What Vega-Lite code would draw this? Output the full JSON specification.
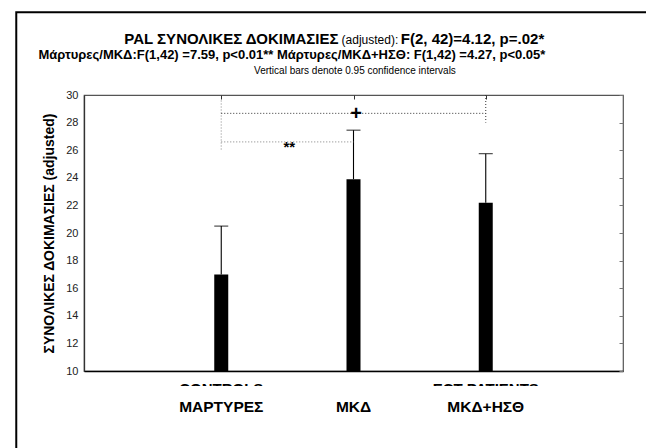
{
  "$schema": "https://vega.github.io/schema/vega-lite/v6.json",
  "width": 539,
  "height": 276,
  "autosize": {"type": "none"},
  "padding": {"left": 84, "top": 95, "right": 23, "bottom": 77},
  "background": "white",
  "config": {
    "font": "Liberation Sans",
    "view": {"stroke": "#555", "strokeWidth": 1.2}
  },
  "data": {
    "values": [
      {"pos": 1, "group": "ΜΑΡΤΥΡΕΣ", "label": "CONTROLS", "mean": 17.0, "upper": 20.5},
      {"pos": 2, "group": "ΜΚΔ", "label": "", "mean": 23.9, "upper": 27.45},
      {"pos": 3, "group": "ΜΚΔ+ΗΣΘ", "label": "ECT PATIENTS", "mean": 22.2, "upper": 25.75}
    ]
  },
  "resolve": {"axis": {"x": "independent", "y": "independent"}},
  "layer": [
    {
      "data": {"values": [{}]},
      "mark": {"type": "rect", "fill": "transparent", "stroke": "black", "strokeWidth": 2},
      "encoding": {
        "x": {"datum": -0.55, "type": "quantitative", "scale": {"domain": [0, 4], "nice": false, "zero": false}, "axis": null},
        "x2": {"datum": 4.6},
        "y": {"datum": 36.0, "type": "quantitative", "scale": {"domain": [10, 30], "nice": false, "zero": false}, "axis": null},
        "y2": {"datum": 0.5}
      }
    },
    {
      "mark": {"type": "bar", "color": "black", "size": 14},
      "encoding": {
        "x": {
          "field": "pos", "type": "quantitative",
          "axis": {"orient": "bottom", "values": [1, 2, 3], "labels": false, "ticks": false, "title": null, "grid": false, "domainColor": "black", "domainWidth": 1.3}
        },
        "y": {
          "field": "mean", "type": "quantitative",
          "axis": {
            "orient": "left", "values": [10, 12, 14, 16, 18, 20, 22, 24, 26, 28, 30], "grid": false, "ticks": false,
            "labelPadding": 6, "labelFontSize": 11, "labelColor": "#222", "domainColor": "#333", "domainWidth": 1.3,
            "title": "ΣΥΝΟΛΙΚΕΣ ΔΟΚΙΜΑΣΙΕΣ (adjusted)", "titleFontSize": 14, "titleFontWeight": "bold", "titleColor": "black", "titlePadding": 9
          }
        },
        "y2": {"datum": 10}
      }
    },
    {
      "mark": {"type": "rule", "color": "black", "strokeWidth": 1.1},
      "encoding": {
        "x": {
          "field": "pos", "type": "quantitative",
          "axis": {"orient": "top", "values": [1, 2, 3], "labels": false, "domain": false, "grid": false, "tickSize": -4, "tickColor": "#333", "title": null}
        },
        "y": {
          "field": "mean", "type": "quantitative",
          "axis": {"orient": "right", "values": [10, 12, 14, 16, 18, 20, 22, 24, 26, 28, 30], "labels": false, "domain": false, "grid": false, "tickSize": -4, "tickColor": "#777", "title": null}
        },
        "y2": {"field": "upper"}
      }
    },
    {
      "mark": {"type": "tick", "orient": "horizontal", "color": "black", "size": 14, "thickness": 1.2},
      "encoding": {
        "x": {"field": "pos", "type": "quantitative", "axis": null},
        "y": {"field": "upper", "type": "quantitative", "axis": null}
      }
    },
    {
      "data": {"values": [{}]},
      "layer": [
        {
          "mark": {"type": "rule", "color": "#999", "strokeDash": [1, 2], "strokeWidth": 1.2},
          "encoding": {"x": {"datum": 1, "type": "quantitative", "axis": null}, "y": {"datum": 29.6, "type": "quantitative", "axis": null}, "y2": {"datum": 25.9}}
        },
        {
          "mark": {"type": "rule", "color": "#999", "strokeDash": [1, 2], "strokeWidth": 1.2},
          "encoding": {"x": {"datum": 1, "type": "quantitative", "axis": null}, "x2": {"datum": 2}, "y": {"datum": 26.6, "type": "quantitative", "axis": null}}
        },
        {
          "mark": {"type": "rule", "color": "#333", "strokeDash": [1, 2], "strokeWidth": 1},
          "encoding": {"x": {"datum": 1, "type": "quantitative", "axis": null}, "x2": {"datum": 3}, "y": {"datum": 28.67, "type": "quantitative", "axis": null}}
        },
        {
          "mark": {"type": "rule", "color": "#333", "strokeDash": [1, 2], "strokeWidth": 1},
          "encoding": {"x": {"datum": 3, "type": "quantitative", "axis": null}, "y": {"datum": 30, "type": "quantitative", "axis": null}, "y2": {"datum": 28.0}}
        },
        {
          "mark": {"type": "text", "text": "**", "fontWeight": "bold", "fontSize": 15, "align": "center", "baseline": "middle"},
          "encoding": {"x": {"datum": 1.514, "type": "quantitative", "axis": null}, "y": {"datum": 26.25, "type": "quantitative", "axis": null}}
        },
        {
          "mark": {"type": "text", "text": "+", "fontWeight": "bold", "fontSize": 20, "align": "center", "baseline": "middle"},
          "encoding": {"x": {"datum": 2.019, "type": "quantitative", "axis": null}, "y": {"datum": 28.6, "type": "quantitative", "axis": null}}
        },
        {
          "mark": {"type": "text", "text": "PAL ΣΥΝΟΛΙΚΕΣ ΔΟΚΙΜΑΣΙΕΣ", "fontWeight": "bold", "fontSize": 15, "align": "left", "baseline": "alphabetic"},
          "encoding": {"x": {"datum": 0.2672, "type": "quantitative", "axis": null}, "y": {"datum": 33.70, "type": "quantitative", "axis": null}}
        },
        {
          "mark": {"type": "text", "text": "(adjusted):", "fontSize": 12, "align": "left", "baseline": "alphabetic"},
          "encoding": {"x": {"datum": 1.91, "type": "quantitative", "axis": null}, "y": {"datum": 33.70, "type": "quantitative", "axis": null}}
        },
        {
          "mark": {"type": "text", "text": "F(2, 42)=4.12, p=.02*", "fontWeight": "bold", "fontSize": 15, "align": "left", "baseline": "alphabetic"},
          "encoding": {"x": {"datum": 2.3577, "type": "quantitative", "axis": null}, "y": {"datum": 33.70, "type": "quantitative", "axis": null}}
        },
        {
          "mark": {"type": "text", "text": "Μάρτυρες/ΜΚΔ:F(1,42) =7.59, p<0.01** Μάρτυρες/ΜΚΔ+ΗΣΘ: F(1,42) =4.27, p<0.05*", "fontWeight": "bold", "fontSize": 13, "align": "right", "baseline": "alphabetic"},
          "encoding": {"x": {"datum": 3.4508, "type": "quantitative", "axis": null}, "y": {"datum": 32.59, "type": "quantitative", "axis": null}}
        },
        {
          "mark": {"type": "text", "text": "Vertical bars denote 0.95 confidence intervals", "fontSize": 10, "align": "center", "baseline": "alphabetic"},
          "encoding": {"x": {"datum": 2.011, "type": "quantitative", "axis": null}, "y": {"datum": 31.49, "type": "quantitative", "axis": null}}
        }
      ]
    },
    {
      "mark": {"type": "text", "fontWeight": "bold", "fontSize": 15, "align": "center", "baseline": "top"},
      "encoding": {
        "x": {"field": "pos", "type": "quantitative", "axis": null},
        "y": {"datum": 9.225, "type": "quantitative", "axis": null},
        "text": {"field": "label"}
      }
    },
    {
      "data": {"values": [{}]},
      "mark": {"type": "rect", "fill": "white"},
      "encoding": {
        "x": {"datum": 0.3, "type": "quantitative", "axis": null},
        "x2": {"datum": 3.8},
        "y": {"datum": 8.913, "type": "quantitative", "axis": null},
        "y2": {"datum": 8.0}
      }
    },
    {
      "mark": {"type": "text", "fontWeight": "bold", "fontSize": 15.5, "align": "center", "baseline": "alphabetic"},
      "encoding": {
        "x": {"field": "pos", "type": "quantitative", "axis": null},
        "y": {"datum": 7.05, "type": "quantitative", "axis": null},
        "text": {"field": "group"}
      }
    }
  ]
}
